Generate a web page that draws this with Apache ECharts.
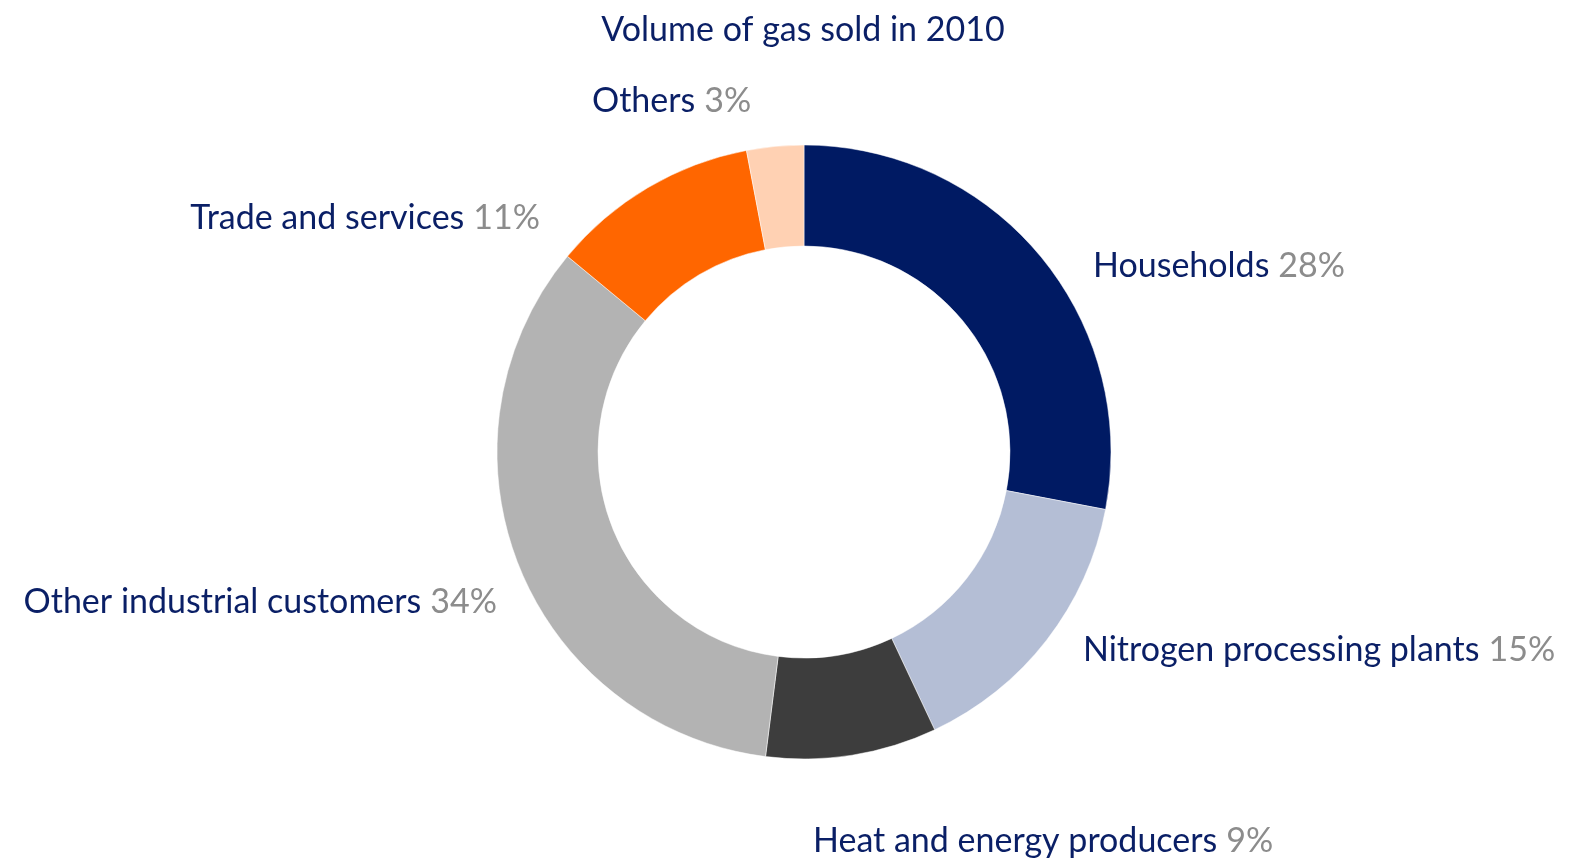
<!DOCTYPE html>
<html>
<head>
<meta charset="utf-8">
<style>
  html, body { margin: 0; padding: 0; background: #fff; }
  #chart { width: 1569px; height: 865px; }
</style>
<script src="https://cdn.jsdelivr.net/npm/echarts@6/dist/echarts.min.js"></script>
</head>
<body>
<div id="chart"></div>
<script>
// data
var categories = ['Households', 'Nitrogen processing plants', 'Heat and energy producers',
                  'Other industrial customers', 'Trade and services', 'Others'];
var shares = [28, 15, 9, 34, 11, 3];
var colors = ['#001a63', '#b4bed5', '#3d3d3d', '#b3b3b3', '#ff6600', '#ffd1b3'];

// where each label sits (x, y, align)
var labelPos = [
  [1093, 266, 'left'],
  [1083, 650, 'left'],
  [813, 841, 'left'],
  [497, 602, 'right'],
  [540, 218, 'right'],
  [592, 101, 'left']
];

var FONT = 'Lato';
var chart = echarts.init(document.getElementById('chart'));

var pieData = [];
for (var i = 0; i < categories.length; i++) {
  pieData.push({ name: categories[i], value: shares[i], itemStyle: { color: colors[i] } });
}

var option = {
  animation: false,
  title: {
    text: 'Volume of gas sold in 2010',
    left: 798,
    textAlign: 'center',
    top: 8,
    textStyle: { fontFamily: FONT, fontSize: 34, fontWeight: 'normal', color: '#0a1f66' }
  },
  series: [{
    type: 'pie',
    center: [804, 452],
    radius: [206, 307],
    startAngle: 90,
    clockwise: true,
    avoidLabelOverlap: false,
    itemStyle: { borderColor: '#fff', borderWidth: 0.5 },
    label: {
      show: true,
      position: 'outside',
      formatter: function (p) { return '{n|' + p.name + '}{p|' + p.value + '%}'; },
      rich: {
        n: { fontFamily: FONT, fontSize: 34, color: '#0a1f66' },
        p: { fontFamily: FONT, fontSize: 34, color: '#8c8c8c', padding: [0, 0, 0, 9] }
      }
    },
    labelLine: { show: false },
    labelLayout: function (params) {
      var lp = labelPos[params.dataIndex];
      return { x: lp[0], y: lp[1], align: lp[2], verticalAlign: 'middle' };
    },
    emphasis: { disabled: true },
    data: pieData
  }]
};

chart.setOption(option);
</script>
</body>
</html>
